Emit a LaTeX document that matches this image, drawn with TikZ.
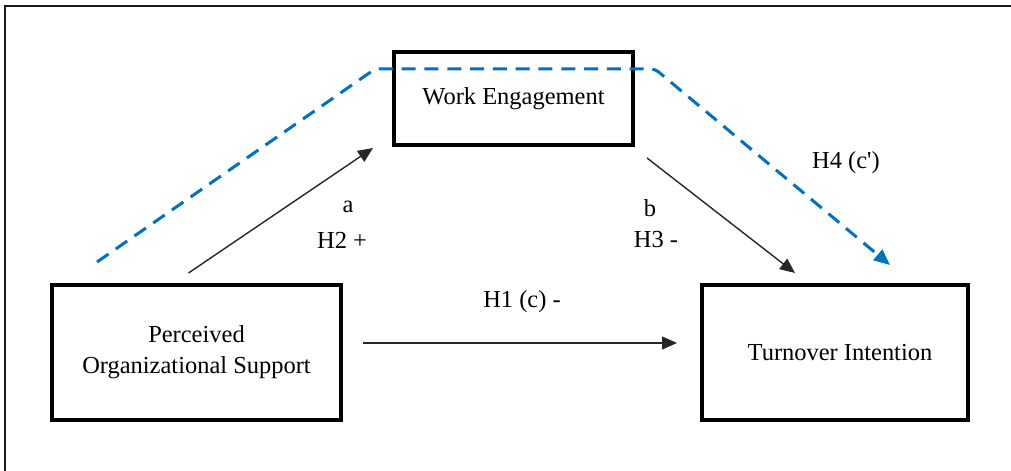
\documentclass[tikz,border=0pt]{standalone}
\usepackage{fontspec}
\setmainfont{Liberation Serif}
\usepackage{xcolor}
\usepackage{tikz}
\usetikzlibrary{arrows.meta,calc}

\definecolor{pathblue}{RGB}{0,112,192}

\begin{document}
\begin{tikzpicture}[
    box/.style={draw,line width=0.1cm,align=center,font=\fontsize{17.4}{22}\selectfont},
    link/.style={-{Triangle[length=0.375cm,width=0.325cm]},line width=0.035cm,black!85},
    mediated/.style={-{Triangle[length=0.4cm,width=0.34cm]},line width=0.075cm,pathblue,dash pattern=on 0.35cm off 0.22cm},
    lbl/.style={font=\fontsize{17.4}{22}\selectfont}
]
\useasboundingbox (0,0) rectangle (25.275,11.775);
% frame (only top and left edge)
\draw[line width=0.05cm,black!90] (0.1375,0) -- (0.1375,11.6125) -- (25.275,11.6125);

% the three variables
\node[box,minimum width=7.225cm,minimum height=3.375cm] (pos) at (4.9125,2.9625) {Perceived\\Organizational Support};
\node[box,minimum width=5.975cm,minimum height=2.325cm] (we) at (12.8375,9.3125) {Work Engagement};
\node[box,minimum width=6.65cm,minimum height=3.375cm] (ti) at (20.875,2.9625) {\hspace*{0.25cm}Turnover Intention};

% direct paths
\draw[link] ([shift={(-0.2,0.25)}]pos.north) -- ([shift={(-0.475,-0.025)}]we.south west);
\draw[link] ([shift={(0.3,-0.275)}]we.south east) -- ([shift={(-1.0,0.25)}]ti.north);
\draw[link] ([shift={(0.5,0.2375)}]pos.east) -- ([shift={(-0.575,0.2375)}]ti.west);

% indirect path through the mediator
\draw[mediated,rounded corners=0.1cm] ([shift={(1.175,0.525)}]pos.north west) -- ([shift={(-0.425,-0.475)}]we.north west)
    -- ([shift={(0.5,-0.475)}]we.north east) -- ([shift={(-2.0,0.45)}]ti.north east);

% hypotheses
\node[lbl] (a) at (8.7,6.6) {a};
\node[lbl] (h2) at (8.55,5.775) {H2 +};
\node[lbl] (b) at (16.25,6.575) {b};
\node[lbl] (h3) at (16.4,5.775) {H3 -};
\node[lbl] (h1) at (13.05,4.225) {H1 (c) -};
\node[lbl] (h4) at (21.15,7.7) {H4 (c\textquotesingle)};
\end{tikzpicture}
\end{document}
